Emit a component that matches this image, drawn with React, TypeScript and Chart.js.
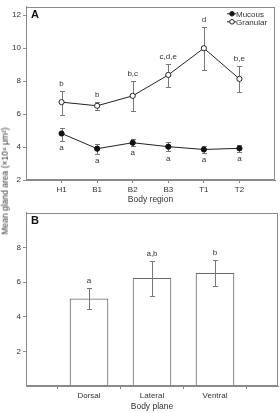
import React, { useEffect, useRef } from 'react';
import { Chart, registerables } from 'chart.js';

Chart.register(...registerables);

// ---- Panel A data ----
const regions = ['H1', 'B1', 'B2', 'B3', 'T1', 'T2'];
const mucousMean = [4.82, 3.9, 4.26, 4.02, 3.85, 3.92];
const mucousLow = [4.38, 3.59, 4.07, 3.74, 3.63, 3.71];
const mucousHigh = [5.17, 4.18, 4.48, 4.3, 4.04, 4.14];
const mucousLetters = ['a', 'a', 'a', 'a', 'a', 'a'];
const granularMean = [6.72, 6.5, 7.1, 8.37, 9.99, 8.13];
const granularLow = [5.97, 6.27, 6.2, 7.64, 8.68, 7.34];
const granularHigh = [7.4, 6.72, 8.0, 9.04, 11.27, 8.9];
const granularLetters = ['b', 'b', 'b,c', 'c,d,e', 'd', 'b,e'];
const yTicksA = [2, 4, 6, 8, 10, 12];

// ---- Panel B data ----
const planes = ['Dorsal', 'Lateral', 'Ventral'];
const planeMean = [5.03, 6.21, 6.5];
const planeLow = [4.44, 5.2, 5.76];
const planeHigh = [5.65, 7.23, 7.27];
const planeLetters = ['a', 'a,b', 'b'];
const yTicksB = [2, 4, 6, 8];

const FONT = "'Liberation Sans', Arial, sans-serif";
const TEXT = '#333';
const AXIS = '#8a8a8a';
const ERR = '#777';

type Group = { low: number[]; high: number[]; letters: string[]; below: boolean };

function makePlugin(cfg: {
  groups: Group[];
  errBefore: boolean;
  panel: string;
  legend?: boolean;
}) {
  const drawErr = (chart: any) => {
    const { ctx } = chart;
    const x = chart.scales.x;
    const y = chart.scales.y;
    ctx.save();
    ctx.strokeStyle = ERR;
    ctx.lineWidth = 1;
    cfg.groups.forEach((g) => {
      g.low.forEach((lo, i) => {
        const px = Math.round(x.getPixelForValue(i + 1)) + 0.5;
        const y1 = Math.round(y.getPixelForValue(lo)) + 0.5;
        const y2 = Math.round(y.getPixelForValue(g.high[i])) + 0.5;
        ctx.beginPath();
        ctx.moveTo(px, y1);
        ctx.lineTo(px, y2);
        ctx.moveTo(px - 2.5, y1);
        ctx.lineTo(px + 2.5, y1);
        ctx.moveTo(px - 2.5, y2);
        ctx.lineTo(px + 2.5, y2);
        ctx.stroke();
      });
    });
    ctx.restore();
  };
  return {
    id: 'annot',
    beforeDatasetsDraw(chart: any) {
      if (cfg.errBefore) drawErr(chart);
    },
    afterDatasetsDraw(chart: any) {
      if (!cfg.errBefore) drawErr(chart);
      const { ctx, chartArea } = chart;
      const x = chart.scales.x;
      const y = chart.scales.y;
      ctx.save();
      // letters
      ctx.fillStyle = TEXT;
      ctx.font = `8px ${FONT}`;
      ctx.textAlign = 'center';
      ctx.textBaseline = 'middle';
      cfg.groups.forEach((g) => {
        g.letters.forEach((t, i) => {
          const px = x.getPixelForValue(i + 1);
          const py = g.below
            ? y.getPixelForValue(g.low[i]) + 7
            : y.getPixelForValue(g.high[i]) - 7;
          ctx.fillText(t, px, py);
        });
      });
      // box
      ctx.strokeStyle = AXIS;
      ctx.lineWidth = 1;
      ctx.strokeRect(
        Math.round(chartArea.left) + 0.5,
        Math.round(chartArea.top) + 0.5,
        Math.round(chartArea.right - chartArea.left) - 1,
        Math.round(chartArea.bottom - chartArea.top) - 1
      );
      // panel label
      ctx.fillStyle = '#111';
      ctx.font = `bold 11px ${FONT}`;
      ctx.textAlign = 'left';
      ctx.textBaseline = 'middle';
      ctx.fillText(cfg.panel, chartArea.left + 5, chartArea.top + 8.5);
      // legend
      if (cfg.legend) {
        const r = chartArea.right;
        const items = [
          { label: 'Mucous', fill: '#111', yy: chartArea.top + 7 },
          { label: 'Granular', fill: '#fff', yy: chartArea.top + 15 },
        ];
        items.forEach((it) => {
          ctx.strokeStyle = '#222';
          ctx.lineWidth = 1;
          ctx.beginPath();
          ctx.moveTo(r - 48, it.yy);
          ctx.lineTo(r - 39, it.yy);
          ctx.stroke();
          ctx.beginPath();
          ctx.arc(r - 43, it.yy, 2.3, 0, Math.PI * 2);
          ctx.fillStyle = it.fill;
          ctx.fill();
          ctx.stroke();
          ctx.fillStyle = TEXT;
          ctx.font = `8px ${FONT}`;
          ctx.textAlign = 'left';
          ctx.fillText(it.label, r - 39, it.yy + 0.5);
        });
      }
      ctx.restore();
    },
  };
}

function axisCommon(ticks: number[], min: number, max: number, labelFn?: (v: number) => string) {
  return {
    type: 'linear' as const,
    min,
    max,
    afterBuildTicks: (scale: any) => {
      scale.ticks = ticks.map((v) => ({ value: v }));
    },
    grid: {
      display: true,
      drawOnChartArea: false,
      drawTicks: true,
      tickLength: 3,
      color: AXIS,
    },
    border: { display: true, color: AXIS },
    ticks: {
      autoSkip: false,
      maxRotation: 0,
      padding: 2,
      color: TEXT,
      font: { family: FONT, size: 8 },
      callback: labelFn ? (v: any) => labelFn(Number(v)) : (v: any) => String(v),
    },
  };
}

function PanelA() {
  const ref = useRef<HTMLCanvasElement>(null);
  useEffect(() => {
    const chart = new Chart(ref.current!, {
      type: 'line',
      data: {
        datasets: [
          {
            label: 'Mucous',
            data: mucousMean.map((v, i) => ({ x: i + 1, y: v })),
            borderColor: '#222',
            borderWidth: 1,
            pointRadius: 2.6,
            pointBackgroundColor: '#111',
            pointBorderColor: '#111',
            pointBorderWidth: 1,
          },
          {
            label: 'Granular',
            data: granularMean.map((v, i) => ({ x: i + 1, y: v })),
            borderColor: '#222',
            borderWidth: 1,
            pointRadius: 2.6,
            pointBackgroundColor: '#fff',
            pointBorderColor: '#222',
            pointBorderWidth: 1,
          },
        ],
      },
      options: {
        animation: false,
        responsive: false,
        devicePixelRatio: 1,
        layout: { padding: { top: 4, right: 2, left: 0, bottom: 0 } },
        plugins: { legend: { display: false }, tooltip: { enabled: false } },
        scales: {
          x: {
            ...axisCommon([1, 2, 3, 4, 5, 6], 0, 7, (v) => regions[v - 1] ?? ''),
            afterFit: (s: any) => {
              s.height = 26;
            },
            title: {
              display: true,
              text: 'Body region',
              color: TEXT,
              font: { family: FONT, size: 8.5 },
              padding: { top: 0, bottom: 1 },
            },
          },
          y: {
            ...axisCommon(yTicksA, 2, 12.5),
            afterFit: (s: any) => {
              s.width = 26;
            },
          },
        },
      } as any,
      plugins: [
        makePlugin({
          groups: [
            { low: mucousLow, high: mucousHigh, letters: mucousLetters, below: true },
            { low: granularLow, high: granularHigh, letters: granularLetters, below: false },
          ],
          errBefore: true,
          panel: 'A',
          legend: true,
        }),
      ],
    });
    return () => chart.destroy();
  }, []);
  return <canvas ref={ref} width={280} height={206} style={{ display: 'block' }} />;
}

function PanelB() {
  const ref = useRef<HTMLCanvasElement>(null);
  useEffect(() => {
    const chart = new Chart(ref.current!, {
      type: 'bar',
      data: {
        datasets: [
          {
            label: 'Body plane',
            data: planeMean.map((v, i) => ({ x: i + 1, y: v })),
            backgroundColor: '#fff',
            borderColor: '#666',
            borderWidth: 1,
            barThickness: 38,
          },
        ],
      },
      options: {
        animation: false,
        responsive: false,
        devicePixelRatio: 1,
        layout: { padding: { top: 4, right: 2, left: 0, bottom: 0 } },
        plugins: { legend: { display: false }, tooltip: { enabled: false } },
        scales: {
          x: {
            ...axisCommon([1, 2, 3], 0, 4, (v) => planes[v - 1] ?? ''),
            offset: false,
            afterFit: (s: any) => {
              s.height = 27;
            },
            title: {
              display: true,
              text: 'Body plane',
              color: TEXT,
              font: { family: FONT, size: 8.5 },
              padding: { top: 0, bottom: 1 },
            },
          },
          y: {
            ...axisCommon(yTicksB, 0, 10),
            afterFit: (s: any) => {
              s.width = 26;
            },
          },
        },
      } as any,
      plugins: [
        makePlugin({
          groups: [{ low: planeLow, high: planeHigh, letters: planeLetters, below: false }],
          errBefore: false,
          panel: 'B',
        }),
      ],
    });
    return () => chart.destroy();
  }, []);
  return <canvas ref={ref} width={280} height={207} style={{ display: 'block' }} />;
}

export default function App() {
  return (
    <div
      style={{
        position: 'fixed',
        left: 0,
        top: 0,
        width: 280,
        height: 413,
        background: '#fff',
        overflow: 'hidden',
      }}
    >
      <PanelA />
      <PanelB />
      <div
        style={{
          position: 'absolute',
          left: 5,
          top: 181,
          transform: 'translate(-50%, -50%) rotate(-90deg)',
          whiteSpace: 'nowrap',
          fontFamily: FONT,
          fontSize: 8.5,
          color: TEXT,
          lineHeight: 1,
        }}
      >
        Mean gland area (×10⁴ μm²)
      </div>
    </div>
  );
}
